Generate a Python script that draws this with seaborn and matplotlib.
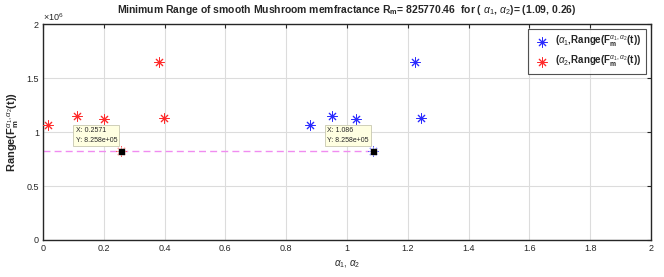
import matplotlib
matplotlib.use("Agg")
import matplotlib.pyplot as plt
import seaborn as sns
import pandas as pd
import numpy as np

# values
alpha1 = [0.878, 0.952, 1.03, 1.224, 1.242, 1.086]
range1 = [1.065e6, 1.151e6, 1.118e6, 1.651e6, 1.127e6, 825770.46]
alpha2 = [0.016, 0.111, 0.20, 0.38, 0.397, 0.2571]
range2 = [1.065e6, 1.148e6, 1.12e6, 1.65e6, 1.127e6, 825770.46]
min_points = [(0.2571, 825770.46), (1.086, 825770.46)]
x_ticks = [0, 0.2, 0.4, 0.6, 0.8, 1, 1.2, 1.4, 1.6, 1.8, 2]
x_tick_labels = ["0", "0.2", "0.4", "0.6", "0.8", "1", "1.2", "1.4", "1.6", "1.8", "2"]
y_ticks = [0, 0.5e6, 1e6, 1.5e6, 2e6]
y_tick_labels = ["0", "0.5", "1", "1.5", "2"]

sns.set_style("white")
plt.rcParams["font.family"] = ["Liberation Sans", "DejaVu Sans"]
plt.rcParams["mathtext.fontset"] = "custom"
plt.rcParams["mathtext.rm"] = "Liberation Sans"
plt.rcParams["mathtext.it"] = "Liberation Sans:italic"
plt.rcParams["mathtext.bf"] = "Liberation Sans:bold"

fig = plt.figure(figsize=(6.64, 2.77), dpi=100)
ax = fig.add_axes([0.0648, 0.1336, 0.9156, 0.7794])

df1 = pd.DataFrame({"a": alpha1, "r": range1})
df2 = pd.DataFrame({"a": alpha2, "r": range2})

star = (8, 2, 0)
lab1 = r"($\alpha_{1}$,Range(F$_{\mathbf{m}}^{\alpha_{1},\alpha_{2}}$(t))"
lab2 = r"($\alpha_{2}$,Range(F$_{\mathbf{m}}^{\alpha_{1},\alpha_{2}}$(t))"
sns.scatterplot(data=df1, x="a", y="r", marker=star, color="#2b2bff", s=45,
                linewidth=0.7, ax=ax, label=lab1, zorder=3)
sns.scatterplot(data=df2, x="a", y="r", marker=star, color="#ff2b2b", s=45,
                linewidth=0.7, ax=ax, label=lab2, zorder=3)

# dashed line to minimum
ax.plot([0, min_points[1][0]], [min_points[1][1], min_points[1][1]],
        linestyle=(0, (5, 3)), color="#f08cf0", lw=1.0, zorder=2)

# data tips
for px, py in min_points:
    ax.plot(px, py, marker="o", color="white", alpha=0.55, markersize=7,
            markeredgewidth=0, zorder=4)
    ax.plot(px, py, marker="s", color="black", markersize=3.6, zorder=5)
    ax.annotate(f"X: {px:.4g}\nY: {py:.3e}",
                xy=(px, py), xytext=(-3, 5), textcoords="offset points",
                ha="right", va="bottom", multialignment="left",
                fontsize=5, linespacing=1.5, color="#262626",
                bbox=dict(boxstyle="square,pad=0.35", fc="#ffffe1", ec="#c8c8b0", lw=0.6),
                zorder=6)

ax.set_xlim(0, 2)
ax.set_ylim(0, 2e6)
ax.set_xticks(x_ticks)
ax.set_xticklabels(x_tick_labels)
ax.set_yticks(y_ticks)
ax.set_yticklabels(y_tick_labels)
ax.text(0, 1.005, r"$\times10^{6}$", transform=ax.transAxes, fontsize=6.5,
        color="#262626", ha="left", va="bottom")
ax.grid(True, color="#dcdcdc", lw=0.8)
ax.set_axisbelow(True)
ax.tick_params(direction="in", length=3, width=0.8, labelsize=6.5,
               colors="#262626", top=True, right=True, pad=3)
for s in ax.spines.values():
    s.set_visible(True)
    s.set_color("#262626")
    s.set_linewidth(1.0)

ax.set_xlabel(r"$\alpha_{1}$, $\alpha_{2}$", fontsize=7, color="#262626")
ax.set_ylabel(r"$\mathbf{Range(F}_{\mathbf{m}}^{\alpha_{1},\alpha_{2}}\mathbf{(t))}$",
              fontsize=8, color="#262626")
ax.set_title(r"Minimum Range of smooth Mushroom memfractance R$_{\mathbf{m}}$= 825770.46  for ( $\alpha_{1}$, $\alpha_{2}$)= (1.09, 0.26)",
             fontsize=7.5, fontweight="bold", pad=8)

leg = ax.legend(loc="upper right", fontsize=7, frameon=True, fancybox=False,
                edgecolor="#262626", borderpad=0.5, handletextpad=0.3,
                prop={"weight": "bold", "size": 7})
leg.get_frame().set_linewidth(0.8)

fig.savefig("out.png", dpi=100)
